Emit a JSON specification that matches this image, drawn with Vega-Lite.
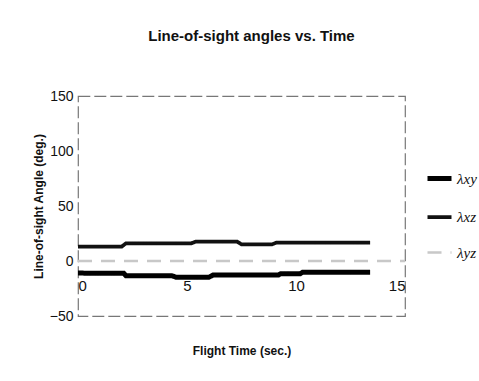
{
  "$schema": "https://vega.github.io/schema/vega-lite/v6.json",
  "width": 327,
  "height": 220,
  "autosize": {"type": "none"},
  "padding": {"left": 78, "top": 96, "right": 74, "bottom": 65},
  "background": "white",
  "title": {
    "text": "Line-of-sight angles vs. Time",
    "font": "Liberation Sans",
    "fontSize": 15,
    "fontWeight": "bold",
    "color": "#111",
    "anchor": "middle",
    "offset": 45,
    "dx": 10
  },
  "config": {
    "view": {"stroke": "#777", "strokeWidth": 1.2, "strokeDash": [12, 4]},
    "axis": {"grid": false, "labelFont": "Liberation Sans", "titleFont": "Liberation Sans", "labelColor": "#111", "titleColor": "#111"}
  },
  "data": {
    "values": [
      {"t": 0, "angle": -11, "series": "λxy"},
      {"t": 2.1, "angle": -11.2, "series": "λxy"},
      {"t": 2.2, "angle": -13.3, "series": "λxy"},
      {"t": 4.3, "angle": -13.3, "series": "λxy"},
      {"t": 4.5, "angle": -14.8, "series": "λxy"},
      {"t": 6.0, "angle": -14.8, "series": "λxy"},
      {"t": 6.2, "angle": -12.7, "series": "λxy"},
      {"t": 9.2, "angle": -12.7, "series": "λxy"},
      {"t": 9.3, "angle": -11.5, "series": "λxy"},
      {"t": 10.2, "angle": -11.5, "series": "λxy"},
      {"t": 10.3, "angle": -10.3, "series": "λxy"},
      {"t": 13.4, "angle": -10.3, "series": "λxy"},
      {"t": 0, "angle": 13, "series": "λxz"},
      {"t": 2.0, "angle": 13, "series": "λxz"},
      {"t": 2.2, "angle": 16.1, "series": "λxz"},
      {"t": 5.2, "angle": 16.1, "series": "λxz"},
      {"t": 5.4, "angle": 17.6, "series": "λxz"},
      {"t": 7.3, "angle": 17.6, "series": "λxz"},
      {"t": 7.5, "angle": 15.1, "series": "λxz"},
      {"t": 8.9, "angle": 15.1, "series": "λxz"},
      {"t": 9.1, "angle": 16.7, "series": "λxz"},
      {"t": 13.4, "angle": 16.7, "series": "λxz"},
      {"t": 0, "angle": 0, "series": "λyz"},
      {"t": 15, "angle": 0, "series": "λyz"}
    ]
  },
  "mark": {"type": "line", "interpolate": "linear"},
  "encoding": {
    "x": {
      "field": "t", "type": "quantitative",
      "scale": {"domain": [0, 15], "nice": false},
      "axis": {
        "values": [0, 5, 10, 15],
        "title": "Flight Time (sec.)",
        "titleFontSize": 12, "titleFontWeight": "bold",
        "labelFontSize": 15,
        "offset": -55,
        "domain": false,
        "tickSize": 0,
        "labelPadding": 17,
        "titlePadding": 52
      }
    },
    "y": {
      "field": "angle", "type": "quantitative",
      "scale": {"domain": [-50, 150], "nice": false},
      "axis": {
        "values": [-50, 0, 50, 100, 150],
        "title": "Line-of-sight Angle (deg.)",
        "titleFontSize": 12, "titleFontWeight": "bold",
        "labelFontSize": 14,
        "domain": false,
        "tickSize": 0,
        "labelPadding": 5,
        "titlePadding": 4
      }
    },
    "color": {
      "field": "series", "type": "nominal",
      "scale": {"domain": ["λxy", "λxz", "λyz"], "range": ["#000", "#111", "#c8c8c8"]},
      "legend": {
        "title": null,
        "orient": "none",
        "legendX": 347,
        "legendY": 68,
        "symbolType": "stroke",
        "symbolSize": 576,
        "symbolStrokeWidth": 2.5,
        "labelFont": "Liberation Serif",
        "labelFontStyle": "italic",
        "labelFontSize": 15,
        "labelColor": "#111",
        "labelOffset": 3,
        "rowPadding": 14,
        "encode": {
          "symbols": {"update": {
            "strokeWidth": {"signal": "datum.value === 'λxy' ? 5 : 2.5"}
          }}
        }
      }
    },
    "strokeWidth": {
      "field": "series", "type": "nominal",
      "scale": {"domain": ["λxy", "λxz", "λyz"], "range": [5, 2.5, 2]},
      "legend": null
    },
    "strokeDash": {
      "field": "series", "type": "nominal",
      "scale": {"domain": ["λxy", "λxz", "λyz"], "range": [[1, 0], [1, 0], [14, 9]]},
      "legend": null
    }
  }
}
